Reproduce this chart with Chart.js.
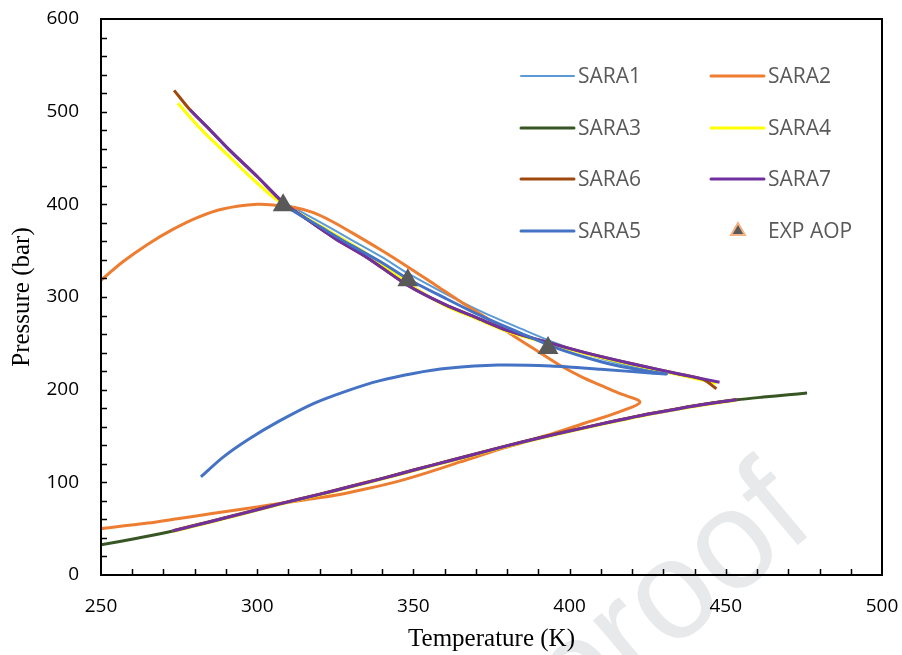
<!DOCTYPE html>
<html>
<head>
<meta charset="utf-8">
<script src="https://cdn.jsdelivr.net/npm/chart.js@4.4.1/dist/chart.umd.min.js"></script>
<style>
  html, body { margin: 0; padding: 0; background: #fff; }
  #wrap { width: 902px; height: 655px; }
</style>
</head>
<body>
<div id="wrap"><canvas id="chart" width="902" height="655"></canvas></div>
<script>
// Temperature (K) / pressure (bar)

const sara1T = [308.5, 320, 330, 340, 348, 360, 372, 385, 395, 405, 415, 425, 431];
const sara1P = [402, 381, 362, 343, 326, 304, 284, 265, 251, 239, 229, 222, 219];

const sara2T = [246, 250, 257, 265, 273, 281, 289, 300, 306, 312, 318, 324, 330, 339, 348, 357, 366, 375, 383, 390, 397, 404, 410, 416, 422.5,
                415, 405, 395, 385, 375, 365, 355, 345, 335, 325, 315, 305, 295, 285, 275, 265, 250, 246];
const sara2P = [306, 318, 338, 357, 373, 386, 395, 400, 399, 396.5, 391, 381.5, 370, 352, 333, 313, 293, 274, 256, 241, 226, 213.5, 204.5, 196, 186.5,
                175, 164, 153, 143, 133, 122, 111, 101, 93, 86, 81, 76, 71, 66, 61, 56, 50, 48.5];

const sara3T = [246, 250, 262, 273, 285, 295, 307, 320, 330, 340, 350, 362, 375, 385, 395, 405, 415, 425, 435, 445, 453.5, 462, 470, 476];
const sara3P = [30, 32.5, 40, 47.5, 57.5, 66, 76.5, 87, 95.5, 104, 113, 123.5, 135, 143.5, 151.5, 159, 166.5, 173.5, 179.5, 185, 189, 192, 194.5, 196.4];

const sara4T = [274.6, 282, 290, 298, 305, 308.5, 320, 335, 348, 360, 370, 380, 393, 405, 420, 435, 447];
const sara4P = [509, 481, 455, 429, 408, 400, 377, 347, 315, 291, 277, 263, 250, 239, 227, 216, 207];
const sara4LowT = [273, 285, 295, 307, 320, 330, 340, 350, 362, 375, 385, 395, 405, 415, 425, 435, 445, 453.5];
const sara4LowP = [47, 57, 65.5, 76, 86.5, 95, 103.5, 112.5, 123, 134.5, 143, 151, 158.5, 166, 173, 179, 184.5, 188.5];

const sara6T = [273.4, 278.5, 285, 291, 300, 308, 315, 325, 335, 348, 360, 370, 380, 393, 405, 420, 435, 442.7, 447];
const sara6P = [523, 502, 480, 459, 430, 403, 386, 363, 343, 313, 292, 278, 264, 251, 240, 228, 217, 211, 201];
const sara6LowT = [273, 285, 295, 307, 320, 330, 340, 350, 362, 375, 385, 395, 405, 415, 425, 435, 445, 453.5];
const sara6LowP = [47.8, 57.8, 66.3, 76.8, 87.3, 95.8, 104.3, 113.3, 123.8, 135.3, 143.8, 151.8, 159.3, 166.8, 173.8, 179.8, 185.3, 189.3];

const sara7T = [278.5, 285, 291, 300, 308, 315, 325, 335, 348, 360, 370, 380, 393, 405, 420, 435, 448];
const sara7P = [502, 480, 459, 430, 403, 386, 363, 343, 313, 292, 278, 264, 251, 240, 228, 217, 208];
const sara7LowT = [273, 285, 295, 307, 320, 330, 340, 350, 362, 375, 385, 395, 405, 415, 425, 435, 445, 453.5];
const sara7LowP = [47.5, 57.5, 66, 76.5, 87, 95.5, 104, 113, 123.5, 135, 143.5, 151.5, 159, 166.5, 173.5, 179.5, 185, 189];

const sara5T = [282, 289, 297, 307, 318, 329, 339, 350, 361, 377, 394, 410, 426, 431,
                425, 415, 405, 395, 385, 372, 360, 348, 340, 330, 320, 308.5];
const sara5P = [106, 127, 146, 166, 185, 199, 209.5, 217.5, 223, 226.5, 225.5, 222, 218, 217,
                220, 226, 235, 246, 260, 279, 299, 320, 337, 356, 376, 399];

const expT = [308.3, 348.2, 393.1];
const expP = [399, 318, 245];

const xTicks = [250, 300, 350, 400, 450, 500];
const yTicks = [0, 100, 200, 300, 400, 500, 600];

function pts(t, p) {
  return t.map((x, i) => ({ x: x, y: p[i] }));
}
// two branches of one envelope, with a break between them
function branches(t1, p1, t2, p2) {
  return pts(t1, p1).concat([{ x: t1[t1.length - 1], y: null }], pts(t2, p2));
}

function line(label, data, color, width) {
  return {
    label: label,
    data: data,
    showLine: true,
    borderColor: color,
    backgroundColor: color,
    borderWidth: width,
    pointRadius: 0,
    pointHoverRadius: 0,
    tension: 0.3,
    spanGaps: false
  };
}

const datasets = [
  line('SARA1', pts(sara1T, sara1P), '#5B9BD5', 2),
  line('SARA2', pts(sara2T, sara2P), '#ED7D31', 3),
  line('SARA3', pts(sara3T, sara3P), '#375623', 3),
  line('SARA4', branches(sara4T, sara4P, sara4LowT, sara4LowP), '#FFFF00', 3),
  line('SARA6', branches(sara6T, sara6P, sara6LowT, sara6LowP), '#9E480E', 3),
  line('SARA7', branches(sara7T, sara7P, sara7LowT, sara7LowP), '#7030A0', 3),
  line('SARA5', pts(sara5T, sara5P), '#4472C4', 3),
  {
    label: 'EXP AOP',
    data: pts(expT, expP),
    showLine: false,
    pointStyle: 'triangle',
    pointRadius: 12,
    pointHoverRadius: 12,
    backgroundColor: '#595959',
    borderColor: '#595959',
    borderWidth: 0
  }
];
// later series are painted on top, like the original
datasets.forEach((d, i) => { d.order = datasets.length - i; });

// faint watermark behind everything, axes included
const watermark = {
  id: 'watermark',
  beforeDraw(chart) {
    const ctx = chart.ctx;
    ctx.save();
    ctx.translate(818, 528);
    ctx.rotate(-40 * Math.PI / 180);
    ctx.font = '140px "Liberation Sans"';
    ctx.fillStyle = '#e8e9eb';
    ctx.textAlign = 'right';
    ctx.textBaseline = 'alphabetic';
    ctx.fillText('Journal Pre-proof', 0, 0);
    ctx.restore();
  }
};

// box round the plot plus inward tick marks
const frame = {
  id: 'frame',
  afterDatasetsDraw(chart) {
    const ctx = chart.ctx;
    const a = chart.chartArea;
    const xs = chart.scales.x, ys = chart.scales.y;
    ctx.save();
    ctx.strokeStyle = '#000';
    ctx.lineWidth = 1.5;
    ctx.beginPath();
    for (let t = 260; t < 500; t += 10) {
      const px = Math.round(xs.getPixelForValue(t)) + 0.5;
      ctx.moveTo(px, a.bottom);
      ctx.lineTo(px, a.bottom - 6);
    }
    for (let p = 20; p < 600; p += 20) {
      const py = Math.round(ys.getPixelForValue(p)) + 0.5;
      ctx.moveTo(a.left, py);
      ctx.lineTo(a.left + 6, py);
    }
    ctx.stroke();
    ctx.lineWidth = 2;
    ctx.strokeRect(a.left, a.top, a.right - a.left, a.bottom - a.top);
    ctx.restore();
  }
};

// two-column legend inside the plot
const legendBox = {
  id: 'legendBox',
  afterDraw(chart) {
    const ctx = chart.ctx;
    const cols = [521, 711];
    const rows = [76, 128, 179, 231];
    ctx.save();
    ctx.font = '21px "Open Sans"';
    ctx.textBaseline = 'middle';
    ctx.textAlign = 'left';
    chart.data.datasets.forEach((ds, i) => {
      const x = cols[i % 2], y = rows[Math.floor(i / 2)];
      if (ds.showLine) {
        ctx.strokeStyle = ds.borderColor;
        ctx.lineWidth = ds.borderWidth;
        ctx.lineCap = 'round';
        ctx.beginPath();
        ctx.moveTo(x, y);
        ctx.lineTo(x + 53, y);
        ctx.stroke();
      } else {
        const cx = x + 27, r = 8;
        ctx.beginPath();
        ctx.moveTo(cx, y - r);
        ctx.lineTo(cx + r * 0.866, y + r / 2);
        ctx.lineTo(cx - r * 0.866, y + r / 2);
        ctx.closePath();
        ctx.fillStyle = '#595959';
        ctx.fill();
        ctx.strokeStyle = '#F4B183';
        ctx.lineWidth = 2;
        ctx.stroke();
      }
      ctx.fillStyle = '#595959';
      ctx.fillText(ds.label, x + 57, y + 1);
    });
    ctx.restore();
  }
};

const ctx = document.getElementById('chart').getContext('2d');
new Chart(ctx, {
  type: 'scatter',
  data: { datasets: datasets },
  options: {
    responsive: false,
    animation: false,
    layout: { padding: { top: 19, right: 20, left: 0, bottom: 0 } },
    plugins: {
      legend: { display: false },
      tooltip: { enabled: false }
    },
    scales: {
      x: {
        type: 'linear',
        min: 250,
        max: 500,
        afterBuildTicks: (s) => { s.ticks = xTicks.map(v => ({ value: v })); },
        afterFit: (s) => { s.height = 80; s.paddingLeft = 0; s.paddingRight = 0; },
        grid: { display: false, drawTicks: false },
        border: { display: false },
        ticks: { padding: 20, color: '#000', font: { family: 'Open Sans', size: 19 } },
        title: {
          display: true,
          text: 'Temperature (K)',
          color: '#000',
          font: { family: 'Liberation Serif', size: 25 },
          padding: { top: 0, bottom: 1 }
        }
      },
      y: {
        type: 'linear',
        min: 0,
        max: 600,
        afterBuildTicks: (s) => { s.ticks = yTicks.map(v => ({ value: v })); },
        afterFit: (s) => { s.width = 101; s.paddingTop = 0; s.paddingBottom = 0; },
        grid: { display: false, drawTicks: false },
        border: { display: false },
        ticks: { padding: 22, color: '#000', font: { family: 'Open Sans', size: 19 } },
        title: {
          display: true,
          text: 'Pressure (bar)',
          color: '#000',
          font: { family: 'Liberation Serif', size: 25 },
          padding: { top: 7, bottom: 0 }
        }
      }
    }
  },
  plugins: [watermark, frame, legendBox]
});
</script>
</body>
</html>
